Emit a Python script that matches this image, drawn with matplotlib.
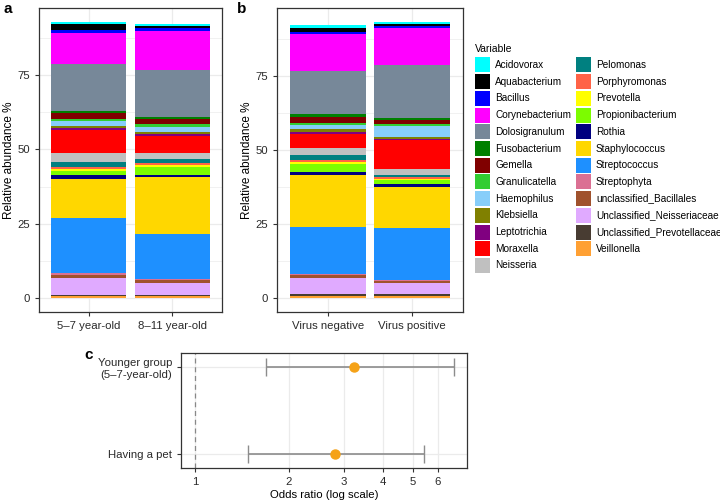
import matplotlib
matplotlib.use("Agg")
import matplotlib.pyplot as plt
from matplotlib.patches import Rectangle
import numpy as np

plt.rcParams['font.family'] = ['Liberation Sans', 'DejaVu Sans']

# ---------------- data ----------------
taxa = ["Acidovorax", "Aquabacterium", "Bacillus", "Corynebacterium", "Dolosigranulum",
        "Fusobacterium", "Gemella", "Granulicatella", "Haemophilus", "Klebsiella",
        "Leptotrichia", "Moraxella", "Neisseria", "Pelomonas", "Porphyromonas",
        "Prevotella", "Propionibacterium", "Rothia", "Staphylococcus", "Streptococcus",
        "Streptophyta", "unclassified_Bacillales", "Unclassified_Neisseriaceae",
        "Unclassified_Prevotellaceae", "Veillonella"]
colors = ["#00FFFF", "#000000", "#0000FF", "#FF00FF", "#778899",
          "#008000", "#800000", "#32CD32", "#87CEFA", "#808000",
          "#800080", "#FF0000", "#C0C0C0", "#008080", "#FF6347",
          "#FFFF00", "#7CFC00", "#000080", "#FFD700", "#1E90FF",
          "#DB7093", "#A0522D", "#E0AAFF", "#483C32", "#FFA033"]

groups_a = ["5\u20137 year-old", "8\u201311 year-old"]
age_5_7 = [0.9, 1.8, 1.1, 10.5, 15.5, 0.9, 2.0, 0.7, 1.6, 0.6, 0.7, 7.9, 3.0, 1.7, 0.5,
           0.6, 1.6, 1.2, 13.1, 18.5, 0.6, 1.1, 5.7, 0.4, 0.6]
age_8_11 = [0.6, 0.9, 0.8, 13.1, 15.7, 0.9, 1.7, 0.8, 1.7, 0.9, 0.7, 5.6, 2.1, 1.1, 0.7,
            0.6, 2.7, 0.9, 19.2, 14.9, 0.4, 0.9, 4.1, 0.4, 0.7]

groups_b = ["Virus negative", "Virus positive"]
virus_neg = [1.0, 1.4, 0.7, 12.3, 14.7, 1.0, 1.9, 0.8, 1.2, 1.1, 0.7, 4.5, 2.6, 1.7, 0.5,
             0.6, 2.7, 1.1, 17.5, 15.9, 0.4, 1.1, 5.2, 0.7, 0.8]
virus_pos = [0.6, 0.9, 0.5, 12.5, 17.9, 0.6, 1.4, 0.9, 3.6, 0.6, 0.5, 9.8, 1.8, 0.9, 0.4,
             0.5, 1.2, 1.2, 13.9, 17.2, 0.5, 0.6, 3.9, 0.6, 0.7]

factors = ["Having a pet", "Younger group\n(5\u20137-year-old)"]
odds_ratio = [2.81, 3.23]
ci_low = [1.48, 1.69]
ci_high = [5.42, 6.76]
or_ticks = [1, 2, 3, 4, 5, 6]

# ---------------- layout helpers ----------------
W, H = 720, 504
fig = plt.figure(figsize=(W / 100, H / 100), dpi=100)


def px_axes(l, t, r, b):
    return fig.add_axes([l / W, 1 - b / H, (r - l) / W, (b - t) / H])


EDGE = "#333333"
GRID = "#EBEBEB"
TXT = "#2A2A2A"


def style_bw(ax):
    for s in ax.spines.values():
        s.set_color(EDGE)
        s.set_linewidth(0.9)
    ax.tick_params(colors=EDGE, labelcolor=TXT, labelsize=8.2, length=3, width=0.8)
    ax.set_axisbelow(True)


def stacked(ax, groups, series_list):
    x = np.arange(1, len(groups) + 1)
    bottoms = np.zeros(len(groups))
    for i in range(len(taxa) - 1, -1, -1):
        vals = np.array([s[i] for s in series_list])
        ax.bar(x, vals, bottom=bottoms, width=0.9, color=colors[i], linewidth=0)
        bottoms += vals
    top = bottoms.max()
    ax.set_xlim(0.4, len(groups) + 0.6)
    ax.set_ylim(-0.05 * top, top * 1.05)
    ax.set_xticks(x)
    ax.set_xticklabels(groups)
    ax.set_yticks([0, 25, 50, 75])
    ax.set_yticks([12.5, 37.5, 62.5, 87.5], minor=True)
    ax.tick_params(axis='y', which='minor', length=0)
    ax.grid(True, which='major', color=GRID, linewidth=0.9)
    ax.grid(True, which='minor', axis='y', color=GRID, linewidth=0.5)
    ax.set_ylabel("Relative abundance %", fontsize=8.5, labelpad=2)
    style_bw(ax)


ax_a = px_axes(39, 8, 222, 312)
stacked(ax_a, groups_a, [age_5_7, age_8_11])
ax_b = px_axes(277, 8, 463, 312)
stacked(ax_b, groups_b, [virus_neg, virus_pos])

fig.text(3 / W, 1 - 9 / H, "a", fontsize=11, fontweight='bold', va='center', ha='left')
fig.text(237 / W, 1 - 9 / H, "b", fontsize=11, fontweight='bold', va='center', ha='left')

# ---------------- legend (manual, ggplot-like) ----------------
fig.text(475 / W, 1 - 49 / H, "Variable", fontsize=7.5, va='center', ha='left')
nrows = 13
for i, (name, col) in enumerate(zip(taxa, colors)):
    c, r = divmod(i, nrows)
    kx = 475 if c == 0 else 576
    tx = 495 if c == 0 else 596
    cy = 65 + 16.7 * r
    fig.patches.append(Rectangle(((kx) / W, 1 - (cy + 7.5) / H), 15 / W, 15 / H,
                                 transform=fig.transFigure, facecolor=col,
                                 edgecolor='none'))
    fig.text(tx / W, 1 - cy / H, name, fontsize=7.2, va='center', ha='left')

# ---------------- panel c ----------------
ax_c = px_axes(181, 353, 467, 468)
yy = np.arange(1, len(factors) + 1)
ax_c.set_xscale('log')
ax_c.axvline(1, color='#888888', linestyle=(0, (4, 3)), linewidth=0.9, zorder=1)
lo_err = np.array(odds_ratio) - np.array(ci_low)
hi_err = np.array(ci_high) - np.array(odds_ratio)
ax_c.errorbar(odds_ratio, yy, xerr=[lo_err, hi_err], fmt='none', ecolor='#8C8C8C',
              elinewidth=1.2, capsize=6.5, capthick=1.0, zorder=2)
ax_c.plot(odds_ratio, yy, 'o', color='#F5A218', markersize=6.5, zorder=3)
ax_c.set_xlim(0.902, 7.44)
ax_c.set_ylim(0.84, 2.16)
ax_c.set_xticks(or_ticks)
ax_c.set_xticklabels([str(t) for t in or_ticks])
ax_c.xaxis.set_minor_locator(matplotlib.ticker.NullLocator())
ax_c.set_yticks(yy)
ax_c.set_yticklabels(factors, multialignment='right')
ax_c.grid(True, color=GRID, linewidth=0.9)
style_bw(ax_c)
ax_c.tick_params(labelsize=8.2)
ax_c.set_xlabel("Odds ratio (log scale)", fontsize=8.2, labelpad=2.5)
fig.text(84 / W, 1 - 355 / H, "c", fontsize=11, fontweight='bold', va='center', ha='left')

fig.savefig("out.png", dpi=100)
